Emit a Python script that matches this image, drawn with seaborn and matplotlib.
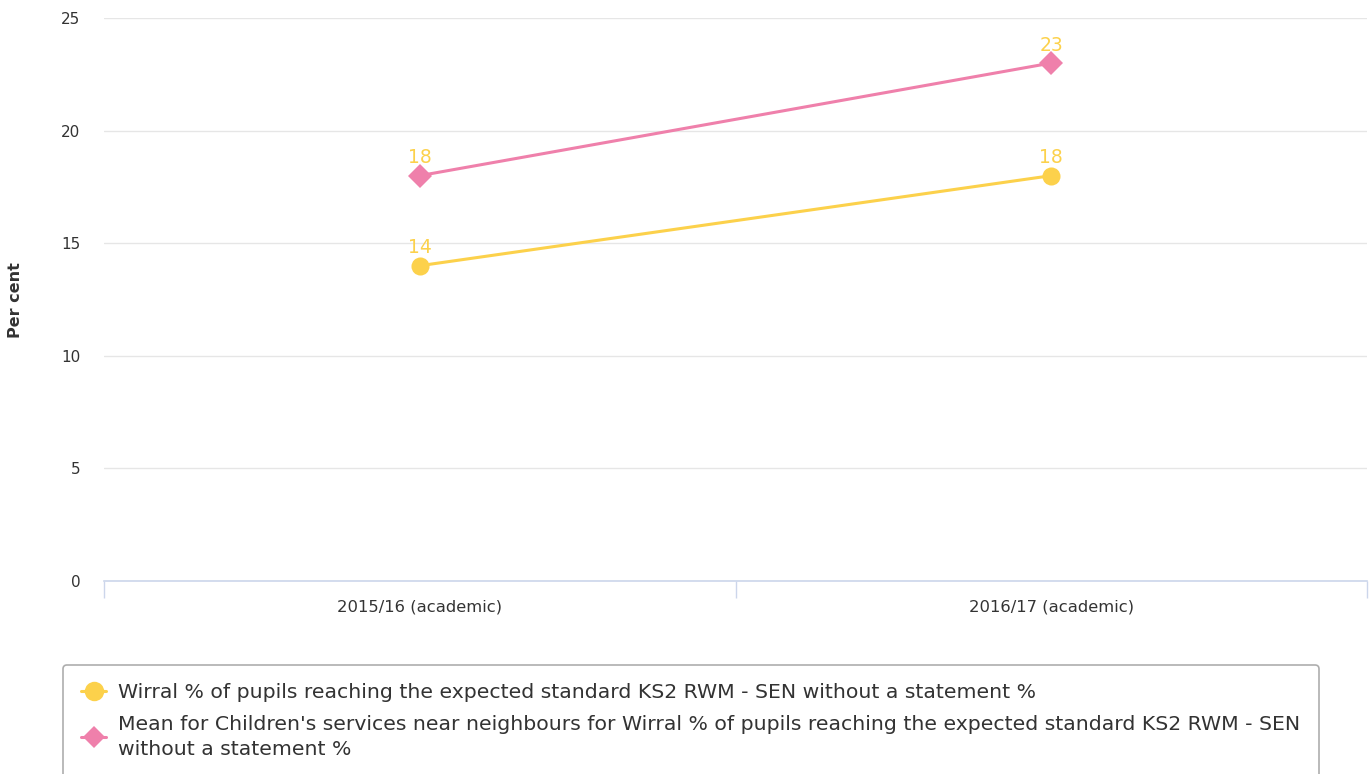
import pandas as pd
import seaborn as sns
import matplotlib.pyplot as plt

# chart values
years = ["2015/16 (academic)", "2016/17 (academic)"]
wirral = [14, 18]
neighbours = [18, 23]
series_names = ["Wirral % of pupils reaching the expected standard KS2 RWM - SEN without a statement %",
                "Mean for Children's services near neighbours for Wirral % of pupils reaching the expected standard KS2 RWM - SEN\nwithout a statement %"]
yticks = [0, 5, 10, 15, 20, 25]

yellow = "#fcd14b"
pink = "#ef80ab"

df = pd.DataFrame({
    "pos": list(range(len(years))) * 2,
    "value": wirral + neighbours,
    "series": [series_names[0]] * len(years) + [series_names[1]] * len(years),
})

sns.set_style("white")
plt.rcParams['font.family'] = ['DejaVu Sans']

fig = plt.figure(figsize=(13.72, 7.74), dpi=100)
ax = fig.add_axes([104 / 1372, 1 - 581 / 774, (1367 - 104) / 1372, (581 - 18) / 774])

sns.lineplot(data=df, x="pos", y="value", hue="series", style="series",
             palette=[yellow, pink], markers=["o", "D"], dashes=False,
             markersize=13, markeredgewidth=0, linewidth=2.2, ax=ax, legend=False)
for line in ax.get_lines():
    if line.get_marker() == "D":
        line.set_markersize(12)

for vals in [wirral, neighbours]:
    for i, v in enumerate(vals):
        ax.annotate(str(v), (i, v), xytext=(0, 6), textcoords="offset points",
                    ha="center", va="bottom", color=yellow, fontsize=13.5)

ax.set_xlim(-0.5, len(years) - 0.5)
ax.set_ylim(0, 25)
ax.set_yticks(yticks)
ax.set_yticklabels([str(t) for t in yticks], fontsize=11, color="#333333")
ax.tick_params(axis="y", length=0, pad=17)
ax.set_xticks([-0.5, 0.5, 1.5])
ax.set_xticklabels([])
ax.set_xticks(range(len(years)), minor=True)
ax.set_xticklabels(years, minor=True, fontsize=11.8, color="#333333")
ax.tick_params(axis="x", which="major", bottom=True, length=12, color="#ccd6eb", width=1)
ax.tick_params(axis="x", which="minor", bottom=True, length=0, pad=13)
ax.grid(axis="y", color="#e6e6e6", linewidth=1)
ax.set_axisbelow(True)
for s in ["top", "right", "left"]:
    ax.spines[s].set_visible(False)
ax.spines["bottom"].set_color("#ccd6eb")
ax.spines["bottom"].set_linewidth(1.2)
ax.set_xlabel("")
ax.set_ylabel("")
fig.text(16 / 1372, 1 - 300 / 774, "Per cent", rotation=90, ha="center", va="center",
         fontsize=11.5, fontweight="bold", color="#333333")

handles = [plt.Line2D([], [], color=yellow, marker="o", markersize=14, linewidth=2.2, markeredgewidth=0),
           plt.Line2D([], [], color=pink, marker="D", markersize=11, linewidth=2.2, markeredgewidth=0)]
leg = fig.legend(handles, series_names, loc="upper left",
                 bbox_to_anchor=(63 / 1372, 1 - 665 / 774), fontsize=14.7, borderaxespad=0,
                 frameon=True, fancybox=True, edgecolor="#999999", handlelength=1.2,
                 handletextpad=0.6, labelcolor="#333333", borderpad=0.9, labelspacing=0.6)
for t in leg.get_texts():
    t.set_linespacing(1.45)
leg.get_frame().set_linewidth(1.2)

fig.savefig("out.png", dpi=100)
